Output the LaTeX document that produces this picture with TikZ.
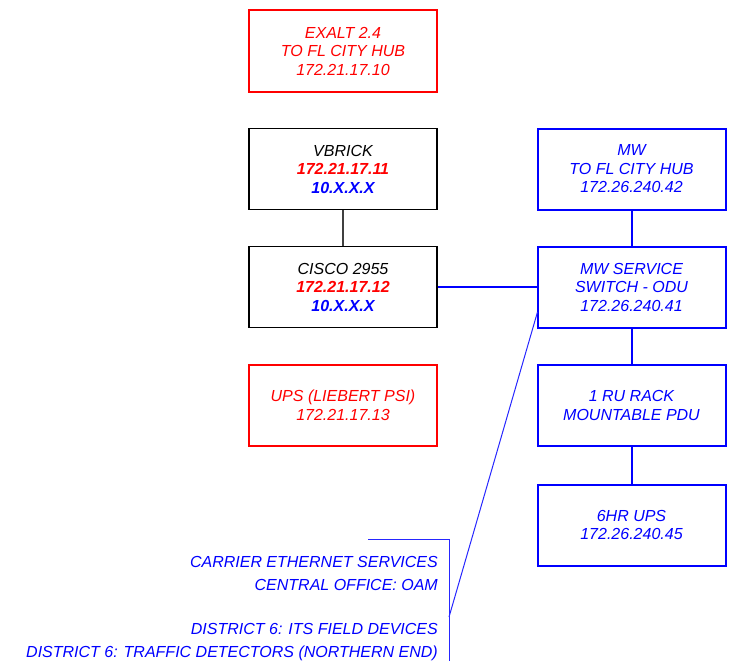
\documentclass[tikz,border=0pt]{standalone}
\usepackage{fontspec}
\setmainfont{Liberation Sans}
\definecolor{myred}{RGB}{255,0,0}
\definecolor{myblue}{RGB}{0,0,255}
\begin{document}
\begin{tikzpicture}[x=1pt,y=-1pt,
  every node/.style={font=\fontsize{16}{18.5}\selectfont\itshape, inner sep=0pt},
  box/.style={draw, rectangle, minimum width=188pt, minimum height=81pt, align=center},
  redbox/.style={box, draw=myred, line width=2pt, text=myred},
  bluebox/.style={box, draw=myblue, line width=2pt, text=myblue},
  blackbox/.style={box, draw=black, line width=1.1pt, text=black},
  blueline/.style={draw=myblue, line width=2pt},
  thinblue/.style={draw=myblue!85!white, line width=1pt},
  note/.style={anchor=base east, text=myblue}
]
\useasboundingbox (0,0) rectangle (746,661);
% left column
\node[redbox] (exalt) at (343,51) {EXALT 2.4\\TO FL CITY HUB\\172.21.17.10};
\node[blackbox] (vbrick) at (343,169) {VBRICK\\\textcolor{myred}{\bfseries 172.21.17.11}\\\textcolor{myblue}{\bfseries 10.X.X.X}};
\node[blackbox] (cisco) at (343,287) {CISCO 2955\\\textcolor{myred}{\bfseries 172.21.17.12}\\\textcolor{myblue}{\bfseries 10.X.X.X}};
\node[redbox] (ups) at (343,405.5) {UPS (LIEBERT PSI)\\172.21.17.13};
% right column
\node[bluebox] (mw) at (631.5,169) {MW\\TO FL CITY HUB\\172.26.240.42};
\node[bluebox] (mwsvc) at (631.5,287) {MW SERVICE\\SWITCH - ODU\\172.26.240.41};
\node[bluebox] (pdu) at (631.5,405.5) {1 RU RACK\\MOUNTABLE PDU};
\node[bluebox] (ups6) at (631.5,525) {6HR UPS\\172.26.240.45};
% connectors
\draw[draw=black!75, line width=1.1pt] (vbrick) -- (cisco);
\draw[blueline] (cisco.east) -- (mwsvc.west);
\draw[blueline] (mw) -- (mwsvc);
\draw[blueline] (mwsvc) -- (pdu);
\draw[blueline] (pdu) -- (ups6);
% bracket and notes
\coordinate (dstart) at (537.5,312);
\coordinate (dend) at (449,617);
\coordinate (bl) at (368,539);
\coordinate (bt) at (449,539);
\coordinate (bb) at (449,661);
\draw[thinblue] (dstart) -- (dend);
\draw[thinblue] (bl) -- (bt) -- (bb);
\node[note] (n1) at (438,567) {CARRIER ETHERNET SERVICES};
\node[note] (n2) at (438,590) {CENTRAL OFFICE: OAM};
\node[note] (n3) at (438,634) {DISTRICT 6: ITS FIELD DEVICES};
\node[note] (n4) at (438,657) {DISTRICT 6: TRAFFIC DETECTORS (NORTHERN END)};
\end{tikzpicture}
\end{document}
